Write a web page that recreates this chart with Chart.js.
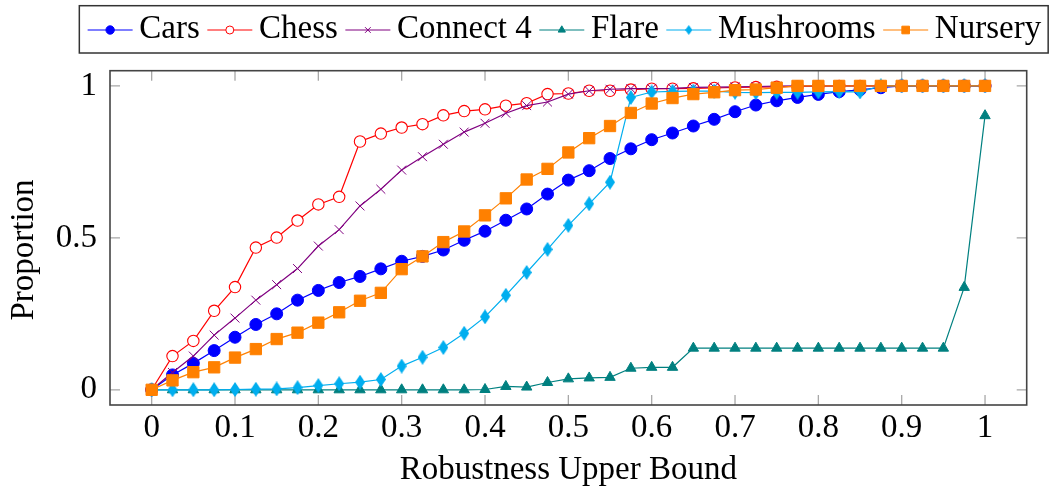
<!DOCTYPE html>
<html><head><meta charset="utf-8">
<script src="https://cdn.jsdelivr.net/npm/chart.js@4.4.1/dist/chart.umd.min.js"></script>
<style>html,body{margin:0;padding:0;background:#fff}#wrap{width:1054px;height:489px;position:relative}</style>
</head><body><div id="wrap"><canvas id="c" width="1054" height="489"></canvas></div>
<script>
// ---- data ----
const xValues = [0,0.025,0.05,0.075,0.1,0.125,0.15,0.175,0.2,0.225,0.25,0.275,0.3,0.325,0.35,0.375,0.4,0.425,0.45,0.475,0.5,0.525,0.55,0.575,0.6,0.625,0.65,0.675,0.7,0.725,0.75,0.775,0.8,0.825,0.85,0.875,0.9,0.925,0.95,0.975,1];
const cars = [0,0.049,0.087,0.129,0.173,0.215,0.250,0.295,0.327,0.353,0.373,0.398,0.423,0.439,0.460,0.492,0.522,0.558,0.595,0.644,0.690,0.721,0.761,0.793,0.823,0.845,0.868,0.890,0.915,0.937,0.951,0.962,0.972,0.981,0.987,0.994,1,1,1,1,1];
const chess = [0,0.111,0.161,0.260,0.338,0.468,0.501,0.557,0.610,0.635,0.817,0.843,0.863,0.874,0.903,0.917,0.923,0.935,0.943,0.973,0.975,0.984,0.984,0.988,0.991,0.991,0.992,0.993,0.995,0.996,0.997,0.998,0.999,1,1,1,1,1,1,1,1];
const connect4 = [0,0.057,0.111,0.180,0.236,0.295,0.346,0.399,0.473,0.527,0.605,0.660,0.723,0.767,0.808,0.848,0.877,0.910,0.935,0.947,0.973,0.984,0.989,0.991,0.991,0.992,0.995,0.996,0.997,0.998,0.999,1,1,1,1,1,1,1,1,1,1];
const flare = [0,0,0,0,0,0,0,0,0,0,0,0,0,0,0,0,0.001,0.011,0.009,0.024,0.036,0.039,0.041,0.071,0.074,0.074,0.137,0.137,0.137,0.137,0.137,0.137,0.137,0.137,0.137,0.137,0.137,0.137,0.137,0.337,0.902];
const mushrooms = [0,0,0,0,0.001,0.002,0.003,0.007,0.014,0.020,0.025,0.034,0.078,0.107,0.139,0.186,0.240,0.311,0.386,0.462,0.541,0.612,0.683,0.962,0.980,0.982,0.983,0.983,0.979,0.978,0.979,0.979,0.980,0.981,0.980,1,1,1,1,1,1];
const nursery = [0,0.031,0.058,0.074,0.106,0.134,0.167,0.188,0.221,0.255,0.293,0.319,0.397,0.439,0.486,0.521,0.574,0.630,0.692,0.727,0.781,0.828,0.868,0.911,0.942,0.960,0.973,0.979,0.986,0.988,0.994,1,1,1,1,1,1,1,1,1,1];
const seriesNames = ['Cars','Chess','Connect 4','Flare','Mushrooms','Nursery'];
const seriesValues = [cars, chess, connect4, flare, mushrooms, nursery];
const xTickValues = [0,0.1,0.2,0.3,0.4,0.5,0.6,0.7,0.8,0.9,1];
const xTickLabels = ['0','0.1','0.2','0.3','0.4','0.5','0.6','0.7','0.8','0.9','1'];
const yTickValues = [0,0.5,1];
const yTickLabels = ['0','0.5','1'];
const xTitle = 'Robustness Upper Bound';
const yTitle = 'Proportion';

// ---- styles ----
const FONT = "'Liberation Serif', 'Times New Roman', serif";
const FS = 33;
const colors = ['#0000ff','#ff0000','#800080','#008080','#00aeef','#ff8000'];

function diamondImg(color, w, h) {
  const c = document.createElement('canvas'); c.width = w; c.height = h;
  const g = c.getContext('2d'); g.fillStyle = color; g.beginPath();
  g.moveTo(w/2, 0); g.lineTo(w, h/2); g.lineTo(w/2, h); g.lineTo(0, h/2); g.closePath(); g.fill();
  return c;
}
const diamondBig = diamondImg(colors[4], 10, 15);
const diamondSmall = diamondImg(colors[4], 7, 10);

const markerStyles = [
  {pointStyle:'circle', radius:6, bg:colors[0], bw:1, lr:4.2},
  {pointStyle:'circle', radius:5.7, bg:'#ffffff', bw:1.1, lr:4},
  {pointStyle:'crossRot', radius:6.3, bg:colors[2], bw:1, lr:4},
  {pointStyle:'triangle', radius:6, bg:colors[3], bw:1, lr:4.2},
  {pointStyle:diamondBig, radius:6, bg:colors[4], bw:1, lr:4, small:diamondSmall},
  {pointStyle:'rect', radius:8, bg:colors[5], bw:1, lr:5.4}
];

const datasets = seriesNames.map((name, k) => ({
  label: name,
  data: xValues.map((x, i) => ({x: x, y: seriesValues[k][i]})),
  borderColor: colors[k],
  borderWidth: 1.2,
  backgroundColor: markerStyles[k].bg,
  pointStyle: markerStyles[k].pointStyle,
  pointRadius: markerStyles[k].radius,
  pointBorderWidth: markerStyles[k].bw,
  pointBorderColor: colors[k],
  pointBackgroundColor: markerStyles[k].bg,
  tension: 0,
  fill: false,
  order: seriesNames.length - k,
  clip: false
}));

const decor = {
  id: 'decor',
  beforeDatasetsDraw(chart) {
    const ctx = chart.ctx, a = chart.chartArea;
    const xs = chart.scales.x, ys = chart.scales.y;
    const TL = 10;
    ctx.save();
    ctx.strokeStyle = '#a8a8a8'; ctx.lineWidth = 1.3;
    ctx.beginPath();
    xTickValues.forEach(v => {
      const px = xs.getPixelForValue(v);
      ctx.moveTo(px, a.bottom); ctx.lineTo(px, a.bottom - TL);
      ctx.moveTo(px, a.top); ctx.lineTo(px, a.top + TL);
    });
    yTickValues.forEach(v => {
      const py = ys.getPixelForValue(v);
      ctx.moveTo(a.left, py); ctx.lineTo(a.left + TL, py);
      ctx.moveTo(a.right, py); ctx.lineTo(a.right - TL, py);
    });
    ctx.stroke();
    ctx.restore();
  },
  afterDraw(chart) {
    const ctx = chart.ctx, a = chart.chartArea;
    ctx.save();
    // frame
    ctx.strokeStyle = '#444'; ctx.lineWidth = 1.6;
    ctx.strokeRect(a.left, a.top, a.right - a.left, a.bottom - a.top);
    // axis titles
    ctx.fillStyle = '#000';
    ctx.font = FS + 'px ' + FONT;
    ctx.textAlign = 'center'; ctx.textBaseline = 'alphabetic';
    ctx.fillText(xTitle, (a.left + a.right) / 2, 479);
    ctx.save();
    ctx.translate(32.5, 250);
    ctx.rotate(-Math.PI / 2);
    ctx.fillText(yTitle, 0, 0);
    ctx.restore();
    // legend
    const lineLen = 45, gapText = 6.7, gapItem = 7.5;
    ctx.textAlign = 'left';
    const widths = seriesNames.map(n => ctx.measureText(n).width);
    let total = 0;
    widths.forEach((w, i) => { total += lineLen + gapText + w + (i < widths.length - 1 ? gapItem : 0); });
    const cx = 564.4;
    let x = cx - total / 2;
    const boxL = x - 8.3, boxR = x + total + 7;
    ctx.strokeStyle = '#333'; ctx.lineWidth = 1.5;
    ctx.strokeRect(boxL, 5.7, boxR - boxL, 47.3);
    const ly = 30;
    seriesNames.forEach((n, k) => {
      ctx.strokeStyle = colors[k]; ctx.lineWidth = 1.2;
      ctx.beginPath(); ctx.moveTo(x, ly); ctx.lineTo(x + lineLen, ly); ctx.stroke();
      const ms = markerStyles[k];
      ctx.fillStyle = ms.bg; ctx.strokeStyle = colors[k]; ctx.lineWidth = 1;
      const ps = ms.small ? ms.small : ms.pointStyle;
      Chart.helpers.drawPoint(ctx, {pointStyle: ps, radius: ms.lr, rotation: 0, borderWidth: 1}, x + lineLen / 2, ly);
      ctx.fillStyle = '#000';
      ctx.fillText(n, x + lineLen + gapText, 37.5);
      x += lineLen + gapText + widths[k] + gapItem;
    });
    ctx.restore();
  }
};

new Chart(document.getElementById('c'), {
  type: 'line',
  data: { datasets: datasets },
  options: {
    responsive: false,
    animation: false,
    devicePixelRatio: 1,
    layout: { padding: { top: 70.7, right: 27.3, left: 0, bottom: 0 } },
    plugins: { legend: { display: false }, tooltip: { enabled: false } },
    scales: {
      x: {
        type: 'linear', min: -0.05, max: 1.05,
        grid: { display: false, drawTicks: false, tickLength: 0 },
        border: { display: false },
        afterBuildTicks: s => { s.ticks = xTickValues.map(v => ({value: v})); },
        afterFit: s => { s.height = 84; },
        ticks: {
          padding: 3.5, color: '#000', maxRotation: 0, autoSkip: false,
          font: { family: FONT, size: FS, lineHeight: 1.2 },
          callback: (v) => { const i = xTickValues.indexOf(v); return i >= 0 ? xTickLabels[i] : ''; }
        }
      },
      y: {
        type: 'linear', min: -0.05, max: 1.05,
        grid: { display: false, drawTicks: false, tickLength: 0 },
        border: { display: false },
        afterBuildTicks: s => { s.ticks = yTickValues.map(v => ({value: v})); },
        afterFit: s => { s.width = 110; },
        ticks: {
          padding: 13, color: '#000', autoSkip: false,
          font: { family: FONT, size: FS, lineHeight: 1.2 },
          callback: (v) => { const i = yTickValues.indexOf(v); return i >= 0 ? yTickLabels[i] : ''; }
        }
      }
    }
  },
  plugins: [decor]
});
</script></body></html>
